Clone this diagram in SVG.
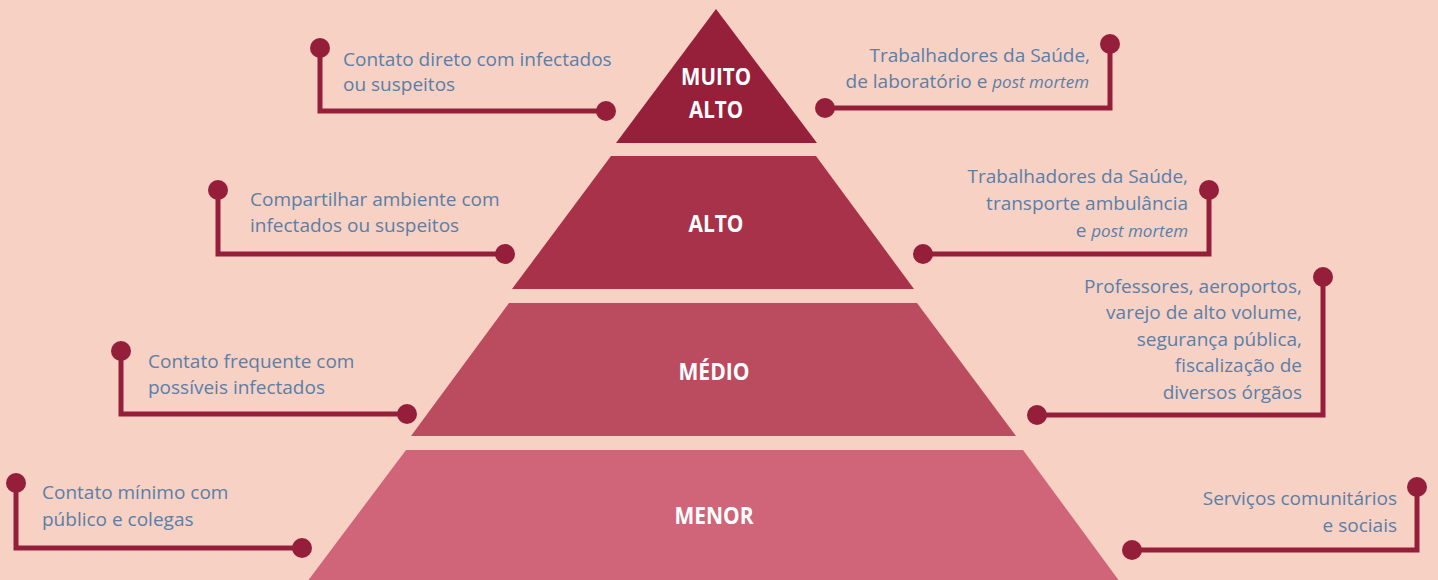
<svg xmlns="http://www.w3.org/2000/svg" width="1438" height="580" viewBox="0 0 1438 580">
<style>
.lvl{font-family:"Open Sans","DejaVu Sans",sans-serif;font-weight:700;font-size:24px;fill:#ffffff;text-anchor:middle}
.t{font-family:"Open Sans","DejaVu Sans",sans-serif;font-size:19px;fill:#5A7FA8}
.r{text-anchor:end}
.it{font-style:italic;font-size:17px}
.ln{fill:none;stroke:#951F3A;stroke-width:5}
.dot{fill:#951F3A}
</style>
<rect width="1438" height="580" fill="#F7D1C4"/>
<g id="level-muito-alto">
<polygon points="716,9 817,143 616,143" fill="#961F3A"/>
<text class="lvl" x="716" y="85" textLength="70" lengthAdjust="spacingAndGlyphs">MUITO</text>
<text class="lvl" x="716" y="118" textLength="54" lengthAdjust="spacingAndGlyphs">ALTO</text>
</g>
<g id="level-alto">
<polygon points="611,156 816,156 914,289 512,289" fill="#A8324A"/>
<text class="lvl" x="716" y="232" textLength="55" lengthAdjust="spacingAndGlyphs">ALTO</text>
</g>
<g id="level-medio">
<polygon points="509,303 917,303 1016,436 411,436" fill="#BB4B5F"/>
<text class="lvl" x="714" y="380" textLength="71" lengthAdjust="spacingAndGlyphs">MÉDIO</text>
</g>
<g id="level-menor">
<polygon points="406,450 1023,450 1120,582 307,582" fill="#D06479"/>
<text class="lvl" x="714" y="524" textLength="79" lengthAdjust="spacingAndGlyphs">MENOR</text>
</g>
<g id="connectors">
<polyline class="ln" points="320,48 320,111 606,111"/>
<circle class="dot" cx="320" cy="48" r="10"/><circle class="dot" cx="606" cy="111" r="10"/>
<polyline class="ln" points="1110,44 1110,108 825,108"/>
<circle class="dot" cx="1110" cy="44" r="10"/><circle class="dot" cx="825" cy="108" r="10"/>
<polyline class="ln" points="218,190 218,254 505,254"/>
<circle class="dot" cx="218" cy="190" r="10"/><circle class="dot" cx="505" cy="254" r="10"/>
<polyline class="ln" points="1209,190 1209,254 923,254"/>
<circle class="dot" cx="1209" cy="190" r="10"/><circle class="dot" cx="923" cy="254" r="10"/>
<polyline class="ln" points="121,351 121,414 407,414"/>
<circle class="dot" cx="121" cy="351" r="10"/><circle class="dot" cx="407" cy="414" r="10"/>
<polyline class="ln" points="1323,277 1323,415 1037,415"/>
<circle class="dot" cx="1323" cy="277" r="10"/><circle class="dot" cx="1037" cy="415" r="10"/>
<polyline class="ln" points="16,483 16,548 302,548"/>
<circle class="dot" cx="16" cy="483" r="10"/><circle class="dot" cx="302" cy="548" r="10"/>
<polyline class="ln" points="1417,487 1417,550 1132,550"/>
<circle class="dot" cx="1417" cy="487" r="10"/><circle class="dot" cx="1132" cy="550" r="10"/>
</g>
<g id="label-muito-alto-left">
<text class="t" x="343" y="66">Contato direto com infectados</text>
<text class="t" x="343" y="91">ou suspeitos</text>
</g>
<g id="label-muito-alto-right">
<text class="t r" x="1090" y="62">Trabalhadores da Saúde,</text>
<text class="t r" x="1089" y="88">de laboratório e <tspan class="it">post mortem</tspan></text>
</g>
<g id="label-alto-left">
<text class="t" x="250" y="206">Compartilhar ambiente com</text>
<text class="t" x="250" y="232">infectados ou suspeitos</text>
</g>
<g id="label-alto-right">
<text class="t r" x="1188" y="183">Trabalhadores da Saúde,</text>
<text class="t r" x="1188" y="210">transporte ambulância</text>
<text class="t r" x="1188" y="237">e <tspan class="it">post mortem</tspan></text>
</g>
<g id="label-medio-left">
<text class="t" x="148" y="368">Contato frequente com</text>
<text class="t" x="148" y="394">possíveis infectados</text>
</g>
<g id="label-medio-right">
<text class="t r" x="1302" y="293">Professores, aeroportos,</text>
<text class="t r" x="1302" y="319">varejo de alto volume,</text>
<text class="t r" x="1302" y="346">segurança pública,</text>
<text class="t r" x="1302" y="372">fiscalização de</text>
<text class="t r" x="1302" y="399">diversos órgãos</text>
</g>
<g id="label-menor-left">
<text class="t" x="42" y="499">Contato mínimo com</text>
<text class="t" x="42" y="526">público e colegas</text>
</g>
<g id="label-menor-right">
<text class="t r" x="1397" y="505">Serviços comunitários</text>
<text class="t r" x="1397" y="532">e sociais</text>
</g>
</svg>
